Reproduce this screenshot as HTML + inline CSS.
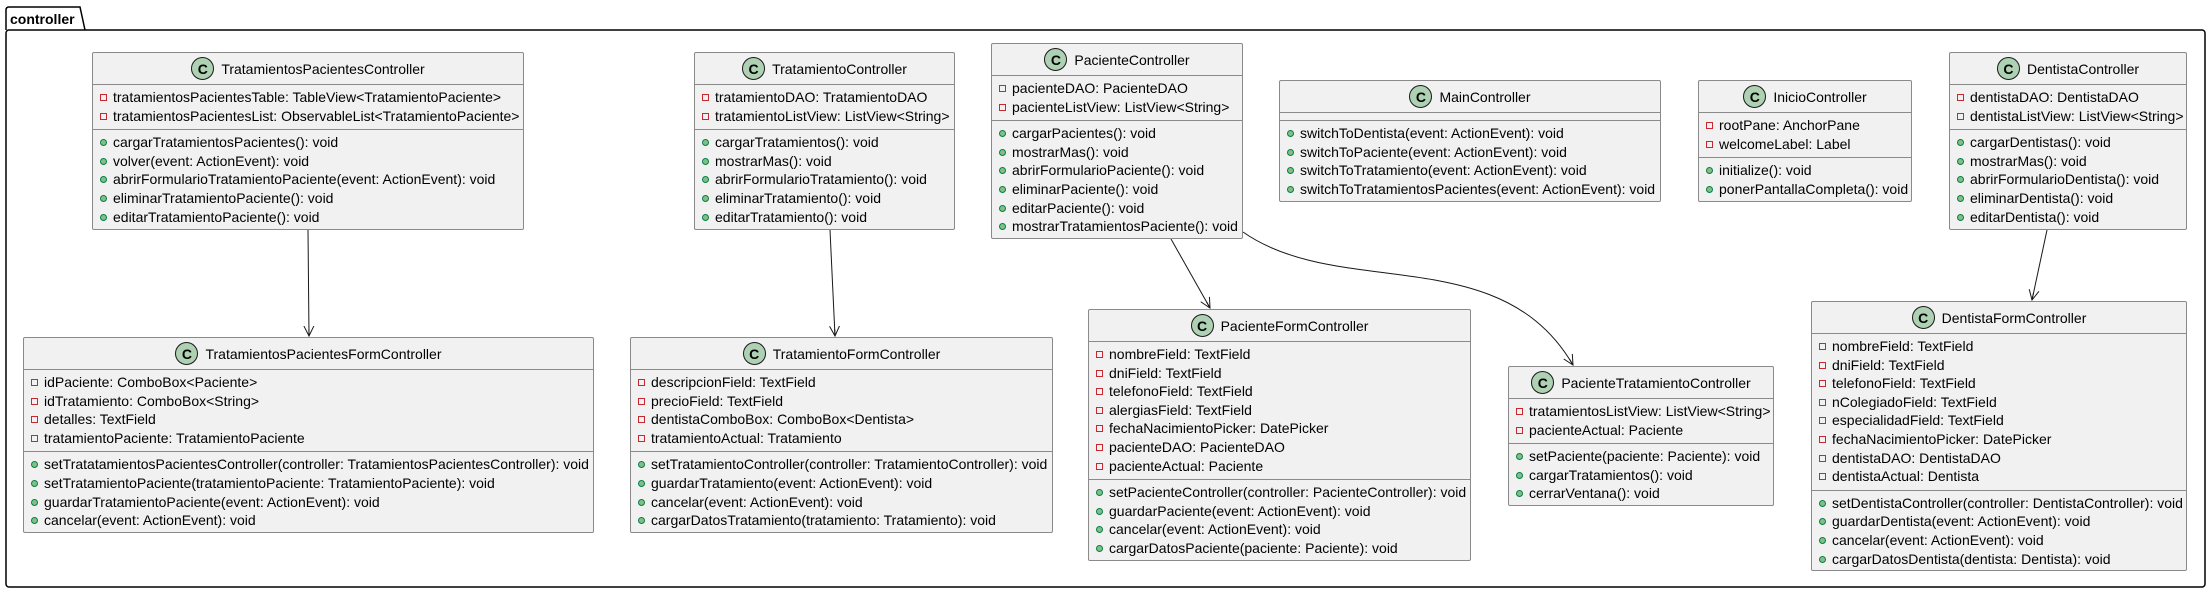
<!DOCTYPE html>
<html><head><meta charset="utf-8"><style>
*{box-sizing:border-box;margin:0;padding:0}
body{width:2210px;height:593px;background:#fff;position:relative;overflow:hidden;font-family:"Liberation Sans",Arial,sans-serif;font-size:14px;color:#000}
.c{position:absolute;background:#f1f1f1;border:1px solid #8a8a8a;border-radius:2px;display:flex;flex-direction:column}
.h{height:32px;display:flex;align-items:center;justify-content:center;border-bottom:1px solid #8a8a8a;flex:none}
.h i{width:23px;height:23px;border-radius:50%;background:#add1b2;border:1px solid #181818;display:inline-flex;align-items:center;justify-content:center;font-style:normal;font-size:14px;font-weight:bold;margin-right:7px}
.s{padding:3px 0 4px 0;border-bottom:1px solid #8a8a8a;flex:none}
.s:last-child{border-bottom:none;flex:1}
.r{height:18.6px;line-height:18.6px;padding-left:20px;position:relative;white-space:nowrap}
.r.p::before{content:"";position:absolute;left:7px;top:6px;width:7px;height:7px;border:1px solid #c82930;box-sizing:border-box}
.r.m::before{content:"";position:absolute;left:7px;top:6px;width:7px;height:7px;border-radius:50%;background:#84be84;border:1px solid #038048;box-sizing:border-box}
svg{position:absolute;left:0;top:0}
</style></head><body>
<svg width="2210" height="593">
<defs><marker id="a" markerWidth="12" markerHeight="12" refX="10" refY="6" orient="auto" markerUnits="userSpaceOnUse"><path d="M0,1 L10,6 L0,11 M10,6 L3,6" fill="none" stroke="#181818" stroke-width="1"/></marker></defs>
<path d="M6,30 L6,10 Q6,7 9,7 L80,7 L85,30" fill="none" stroke="#000" stroke-width="1.5"/>
<rect x="6" y="30" width="2199" height="557" rx="3" fill="none" stroke="#000" stroke-width="1.5"/>
<text x="10" y="24" font-family="Liberation Sans, sans-serif" font-size="14" font-weight="bold">controller</text>
<g fill="none" stroke="#181818" stroke-width="1">
<path d="M308,230 L309,336" marker-end="url(#a)"/>
<path d="M830,230 L835,336" marker-end="url(#a)"/>
<path d="M1171,239 L1210,308" marker-end="url(#a)"/>
<path d="M1243,232 C1340,300 1500,240 1573,365" marker-end="url(#a)"/>
<path d="M2047,230 L2032,300" marker-end="url(#a)"/>
</g>
</svg>

<div class="c" style="left:92px;top:52px;width:432px;height:178px">
<div class="h"><i>C</i>TratamientosPacientesController</div>
<div class="s"><div class="r p">tratamientosPacientesTable: TableView&lt;TratamientoPaciente&gt;</div><div class="r p">tratamientosPacientesList: ObservableList&lt;TratamientoPaciente&gt;</div></div>
<div class="s"><div class="r m">cargarTratamientosPacientes(): void</div><div class="r m">volver(event: ActionEvent): void</div><div class="r m">abrirFormularioTratamientoPaciente(event: ActionEvent): void</div><div class="r m">eliminarTratamientoPaciente(): void</div><div class="r m">editarTratamientoPaciente(): void</div></div>
</div>

<div class="c" style="left:694px;top:52px;width:261px;height:178px">
<div class="h"><i>C</i>TratamientoController</div>
<div class="s"><div class="r p">tratamientoDAO: TratamientoDAO</div><div class="r p">tratamientoListView: ListView&lt;String&gt;</div></div>
<div class="s"><div class="r m">cargarTratamientos(): void</div><div class="r m">mostrarMas(): void</div><div class="r m">abrirFormularioTratamiento(): void</div><div class="r m">eliminarTratamiento(): void</div><div class="r m">editarTratamiento(): void</div></div>
</div>

<div class="c" style="left:991px;top:43px;width:252px;height:196px">
<div class="h"><i>C</i>PacienteController</div>
<div class="s"><div class="r p">pacienteDAO: PacienteDAO</div><div class="r p">pacienteListView: ListView&lt;String&gt;</div></div>
<div class="s"><div class="r m">cargarPacientes(): void</div><div class="r m">mostrarMas(): void</div><div class="r m">abrirFormularioPaciente(): void</div><div class="r m">eliminarPaciente(): void</div><div class="r m">editarPaciente(): void</div><div class="r m">mostrarTratamientosPaciente(): void</div></div>
</div>

<div class="c" style="left:1279px;top:80px;width:382px;height:122px">
<div class="h"><i>C</i>MainController</div>
<div class="s" style="height:8px;padding:0"></div>
<div class="s"><div class="r m">switchToDentista(event: ActionEvent): void</div><div class="r m">switchToPaciente(event: ActionEvent): void</div><div class="r m">switchToTratamiento(event: ActionEvent): void</div><div class="r m">switchToTratamientosPacientes(event: ActionEvent): void</div></div>
</div>

<div class="c" style="left:1698px;top:80px;width:214px;height:122px">
<div class="h"><i>C</i>InicioController</div>
<div class="s"><div class="r p">rootPane: AnchorPane</div><div class="r p">welcomeLabel: Label</div></div>
<div class="s"><div class="r m">initialize(): void</div><div class="r m">ponerPantallaCompleta(): void</div></div>
</div>

<div class="c" style="left:1949px;top:52px;width:238px;height:178px">
<div class="h"><i>C</i>DentistaController</div>
<div class="s"><div class="r p">dentistaDAO: DentistaDAO</div><div class="r p">dentistaListView: ListView&lt;String&gt;</div></div>
<div class="s"><div class="r m">cargarDentistas(): void</div><div class="r m">mostrarMas(): void</div><div class="r m">abrirFormularioDentista(): void</div><div class="r m">eliminarDentista(): void</div><div class="r m">editarDentista(): void</div></div>
</div>

<div class="c" style="left:23px;top:337px;width:571px;height:196px">
<div class="h"><i>C</i>TratamientosPacientesFormController</div>
<div class="s"><div class="r p">idPaciente: ComboBox&lt;Paciente&gt;</div><div class="r p">idTratamiento: ComboBox&lt;String&gt;</div><div class="r p">detalles: TextField</div><div class="r p">tratamientoPaciente: TratamientoPaciente</div></div>
<div class="s"><div class="r m">setTratatamientosPacientesController(controller: TratamientosPacientesController): void</div><div class="r m">setTratamientoPaciente(tratamientoPaciente: TratamientoPaciente): void</div><div class="r m">guardarTratamientoPaciente(event: ActionEvent): void</div><div class="r m">cancelar(event: ActionEvent): void</div></div>
</div>

<div class="c" style="left:630px;top:337px;width:423px;height:196px">
<div class="h"><i>C</i>TratamientoFormController</div>
<div class="s"><div class="r p">descripcionField: TextField</div><div class="r p">precioField: TextField</div><div class="r p">dentistaComboBox: ComboBox&lt;Dentista&gt;</div><div class="r p">tratamientoActual: Tratamiento</div></div>
<div class="s"><div class="r m">setTratamientoController(controller: TratamientoController): void</div><div class="r m">guardarTratamiento(event: ActionEvent): void</div><div class="r m">cancelar(event: ActionEvent): void</div><div class="r m">cargarDatosTratamiento(tratamiento: Tratamiento): void</div></div>
</div>

<div class="c" style="left:1088px;top:309px;width:383px;height:252px">
<div class="h"><i>C</i>PacienteFormController</div>
<div class="s"><div class="r p">nombreField: TextField</div><div class="r p">dniField: TextField</div><div class="r p">telefonoField: TextField</div><div class="r p">alergiasField: TextField</div><div class="r p">fechaNacimientoPicker: DatePicker</div><div class="r p">pacienteDAO: PacienteDAO</div><div class="r p">pacienteActual: Paciente</div></div>
<div class="s"><div class="r m">setPacienteController(controller: PacienteController): void</div><div class="r m">guardarPaciente(event: ActionEvent): void</div><div class="r m">cancelar(event: ActionEvent): void</div><div class="r m">cargarDatosPaciente(paciente: Paciente): void</div></div>
</div>

<div class="c" style="left:1508px;top:366px;width:266px;height:140px">
<div class="h"><i>C</i>PacienteTratamientoController</div>
<div class="s"><div class="r p">tratamientosListView: ListView&lt;String&gt;</div><div class="r p">pacienteActual: Paciente</div></div>
<div class="s"><div class="r m">setPaciente(paciente: Paciente): void</div><div class="r m">cargarTratamientos(): void</div><div class="r m">cerrarVentana(): void</div></div>
</div>

<div class="c" style="left:1811px;top:301px;width:376px;height:270px">
<div class="h"><i>C</i>DentistaFormController</div>
<div class="s"><div class="r p">nombreField: TextField</div><div class="r p">dniField: TextField</div><div class="r p">telefonoField: TextField</div><div class="r p">nColegiadoField: TextField</div><div class="r p">especialidadField: TextField</div><div class="r p">fechaNacimientoPicker: DatePicker</div><div class="r p">dentistaDAO: DentistaDAO</div><div class="r p">dentistaActual: Dentista</div></div>
<div class="s"><div class="r m">setDentistaController(controller: DentistaController): void</div><div class="r m">guardarDentista(event: ActionEvent): void</div><div class="r m">cancelar(event: ActionEvent): void</div><div class="r m">cargarDatosDentista(dentista: Dentista): void</div></div>
</div>
</body></html>
